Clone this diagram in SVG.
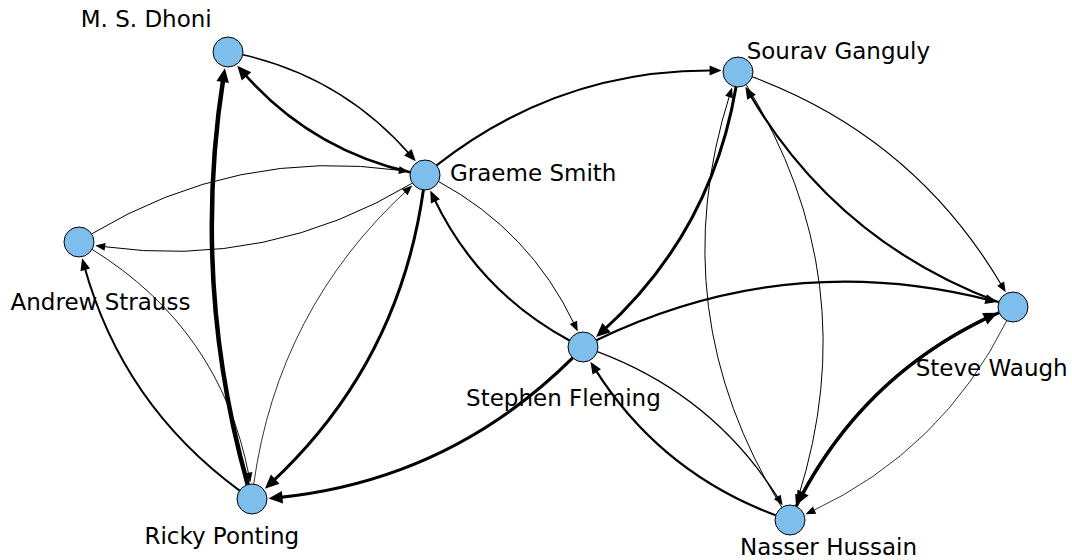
<svg xmlns="http://www.w3.org/2000/svg" width="1072" height="560" viewBox="0 0 1072 560">
<style>
.e{fill:none;stroke:#000;stroke-linecap:butt}
.n{fill:#7dbeed;stroke:#000;stroke-width:1}
.l{font-family:"DejaVu Sans","Liberation Sans",sans-serif;font-size:23px;fill:#000;text-anchor:middle}
</style>
<defs>
<marker id="as" markerUnits="userSpaceOnUse" orient="auto" refX="0" refY="0" markerWidth="20" markerHeight="20" overflow="visible"><path d="M7.5,0 L-2.5,-4 L-2.5,4 Z" fill="#000"/></marker>
<marker id="am" markerUnits="userSpaceOnUse" orient="auto" refX="0" refY="0" markerWidth="20" markerHeight="20" overflow="visible"><path d="M7.5,0 L-4.5,-5 L-4.5,5 Z" fill="#000"/></marker>
<marker id="al" markerUnits="userSpaceOnUse" orient="auto" refX="0" refY="0" markerWidth="20" markerHeight="20" overflow="visible"><path d="M7.5,0 L-6.5,-6.3 L-6.5,6.3 Z" fill="#000"/></marker>
</defs>
<g id="edges">
<path class="e" stroke-width="1.6" marker-end="url(#am)" d="M242.8,54.7 Q343.7,78 410.8,155.6"/>
<path class="e" stroke-width="2.6" marker-end="url(#al)" d="M410.2,172.3 Q309.3,149 242.2,71.4"/>
<path class="e" stroke-width="4.5" marker-end="url(#al)" d="M247.7,484.6 Q191.1,282.5 223.7,75.6"/>
<path class="e" stroke-width="1" marker-end="url(#as)" d="M91.6,233.9 Q235.9,147.2 401.4,170.5"/>
<path class="e" stroke-width="1" marker-end="url(#as)" d="M412.4,183.1 Q268.1,269.8 102.6,246.5"/>
<path class="e" stroke-width="0.9" marker-end="url(#as)" d="M92.1,249.4 Q220.3,328.8 248.9,475.2"/>
<path class="e" stroke-width="2" marker-end="url(#am)" d="M239.6,490.6 Q122.4,404.5 84.1,265.5"/>
<path class="e" stroke-width="0.8" marker-end="url(#as)" d="M253.7,484.1 Q278.1,309.5 406.7,190.5"/>
<path class="e" stroke-width="3" marker-end="url(#al)" d="M423.4,189.9 Q398.9,364.5 270.4,483.6"/>
<path class="e" stroke-width="2.2" marker-end="url(#am)" d="M436.5,165.4 Q559.2,69.1 714.1,70.5"/>
<path class="e" stroke-width="1" marker-end="url(#as)" d="M438.5,181.5 Q530.2,231.2 574.5,324.6"/>
<path class="e" stroke-width="2.2" marker-end="url(#am)" d="M569.5,340.5 Q477.8,290.8 433.5,197.4"/>
<path class="e" stroke-width="3.2" marker-end="url(#al)" d="M572.7,357.9 Q448.7,480.9 276,497.8"/>
<path class="e" stroke-width="3" marker-end="url(#al)" d="M736,86.9 Q711.2,233.3 601.7,332"/>
<path class="e" stroke-width="1.2" marker-end="url(#as)" d="M752.2,76.8 Q914.6,137.3 1001.9,285.8"/>
<path class="e" stroke-width="2.2" marker-end="url(#am)" d="M998.8,302.2 Q836.4,241.7 749.2,93.3"/>
<path class="e" stroke-width="2.2" marker-end="url(#am)" d="M596.4,340.2 Q786.5,248.6 990,300.2"/>
<path class="e" stroke-width="1.3" marker-end="url(#as)" d="M597.3,351.7 Q713.3,395 778.6,498.9"/>
<path class="e" stroke-width="2.2" marker-end="url(#am)" d="M775.7,515.3 Q659.8,472 594.4,368.1"/>
<path class="e" stroke-width="1" marker-end="url(#as)" d="M781.8,507.4 Q661.1,312 729.8,94.6"/>
<path class="e" stroke-width="1" marker-end="url(#as)" d="M746.2,84.6 Q866.9,280 798.2,497.4"/>
<path class="e" stroke-width="3.2" marker-end="url(#al)" d="M796.2,506.4 Q860.9,377 990.7,316"/>
<path class="e" stroke-width="3.2" marker-end="url(#al)" d="M999.1,312.6 Q866.9,371.3 800,498.2"/>
<path class="e" stroke-width="0.8" marker-end="url(#as)" d="M1006.8,320.7 Q942.1,450 812.3,511.1"/>
</g>
<g id="node-dhoni"><circle class="n" cx="228" cy="52" r="15"/><text class="l" x="146.2" y="27">M. S. Dhoni</text></g>
<g id="node-smith"><circle class="n" cx="425" cy="175" r="15"/><text class="l" x="533.2" y="181">Graeme Smith</text></g>
<g id="node-strauss"><circle class="n" cx="79" cy="242" r="15"/><text class="l" x="100.5" y="309.5">Andrew Strauss</text></g>
<g id="node-ponting"><circle class="n" cx="252" cy="499" r="15"/><text class="l" x="221.8" y="544">Ricky Ponting</text></g>
<g id="node-fleming"><circle class="n" cx="583" cy="347" r="15"/><text class="l" x="563.4" y="406">Stephen Fleming</text></g>
<g id="node-ganguly"><circle class="n" cx="738" cy="72" r="15"/><text class="l" x="838.4" y="59">Sourav Ganguly</text></g>
<g id="node-waugh"><circle class="n" cx="1013" cy="307" r="15"/><text class="l" x="991.7" y="376">Steve Waugh</text></g>
<g id="node-hussain"><circle class="n" cx="790" cy="520" r="15"/><text class="l" x="828.5" y="555">Nasser Hussain</text></g>
</svg>
